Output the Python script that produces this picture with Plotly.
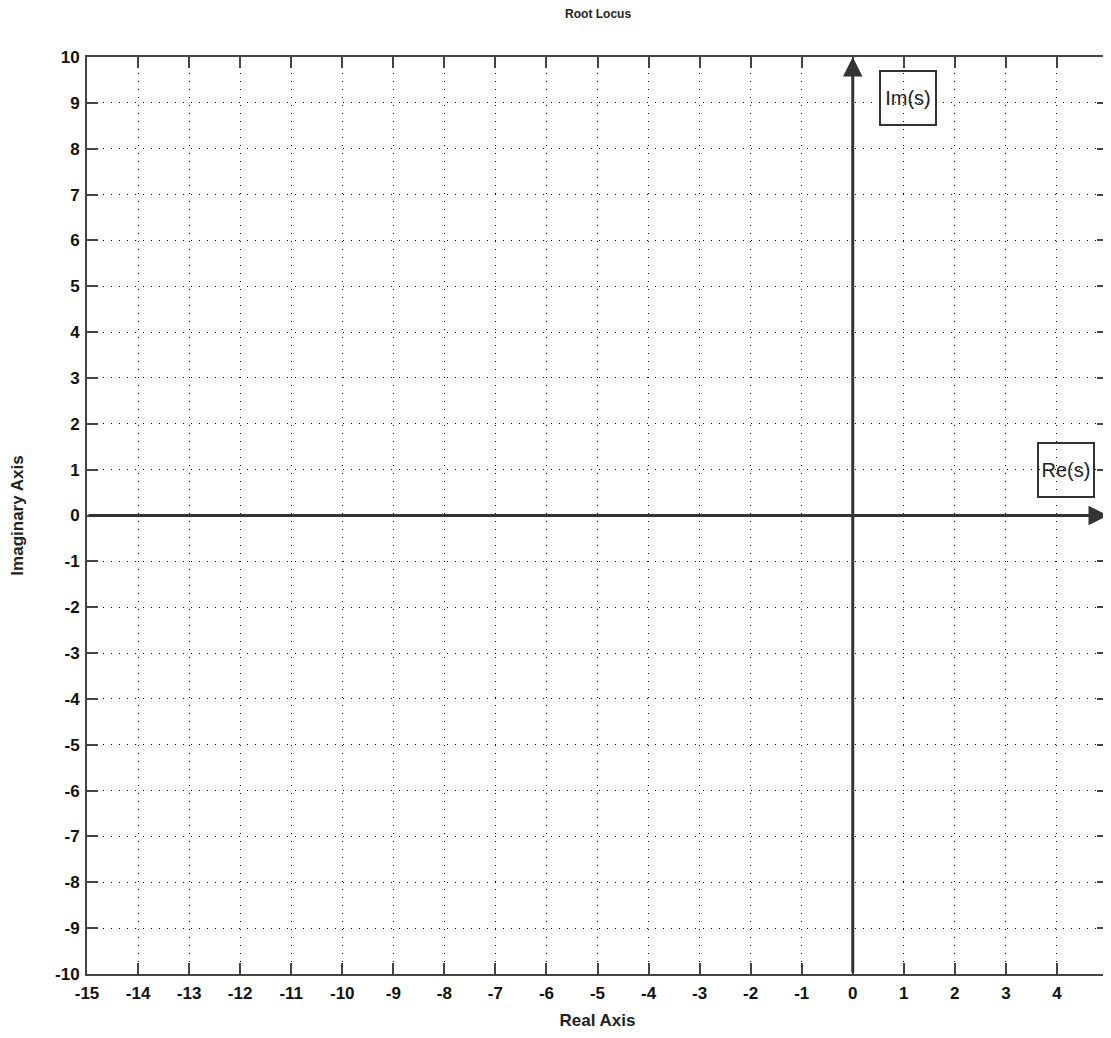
import plotly.graph_objects as go

title_text = "Root Locus"
x_label = "Real Axis"
y_label = "Imaginary Axis"
x_range = [-15, 5]
y_range = [-10, 10]
x_ticks = list(range(-15, 5))
y_ticks = list(range(-10, 11))
re_label = "Re(s)"
im_label = "Im(s)"
re_label_pos = [4.17, 1.0]
im_label_pos = [1.08, 9.1]

FONT = "Liberation Sans, Arial"

fig = go.Figure()
fig.add_trace(go.Scatter(x=[], y=[], mode="markers", showlegend=False))

axis_common = dict(
    showgrid=True, griddash="1px,7px", gridcolor="#000", gridwidth=1.3,
    zeroline=False, showline=True, linecolor="#444", linewidth=2, mirror="ticks",
    ticks="inside", ticklen=11, tickcolor="#444", tickwidth=2, automargin=False,
    tickfont=dict(family=FONT, size=17, color="#111", weight="bold"),
)

fig.update_xaxes(range=x_range, tickvals=x_ticks, ticktext=[str(v) for v in x_ticks],
                 ticklabelstandoff=3,
                 title=dict(text=x_label, font=dict(family=FONT, size=17, color="#222", weight="bold"), standoff=12),
                 **axis_common)
fig.update_yaxes(range=y_range, tickvals=y_ticks, ticktext=[str(v) for v in y_ticks],
                 ticklabelstandoff=2,
                 title=dict(text=y_label, font=dict(family=FONT, size=17, color="#222", weight="bold"), standoff=30),
                 **axis_common)

# axes arrows
fig.add_annotation(x=0, y=y_range[1], ax=0, ay=y_range[0], xref="x", yref="y", axref="x", ayref="y",
                   showarrow=True, arrowhead=2, arrowsize=1.3, arrowwidth=3, arrowcolor="#333", text="")
fig.add_annotation(x=x_range[1], y=0, ax=x_range[0], ay=0, xref="x", yref="y", axref="x", ayref="y",
                   showarrow=True, arrowhead=2, arrowsize=1.3, arrowwidth=3, arrowcolor="#333", text="")

box_style = dict(showarrow=False, bordercolor="#333", borderwidth=2, bgcolor="rgba(255,255,255,0)",
                 width=52, height=50, font=dict(family=FONT, size=20, color="#222"))
fig.add_annotation(x=im_label_pos[0], y=im_label_pos[1], text=im_label, xref="x", yref="y", **box_style)
fig.add_annotation(x=re_label_pos[0], y=re_label_pos[1], text=re_label, xref="x", yref="y", **box_style)

fig.update_layout(
    width=1103, height=1030,
    margin=dict(l=79, r=3, t=49, b=64),
    paper_bgcolor="white", plot_bgcolor="white",
    title=dict(text=title_text, x=0.535, xanchor="center", y=0.998, yanchor="top",
               font=dict(family=FONT, size=12, color="#222", weight="bold")),
)

fig.write_html("out.html")
